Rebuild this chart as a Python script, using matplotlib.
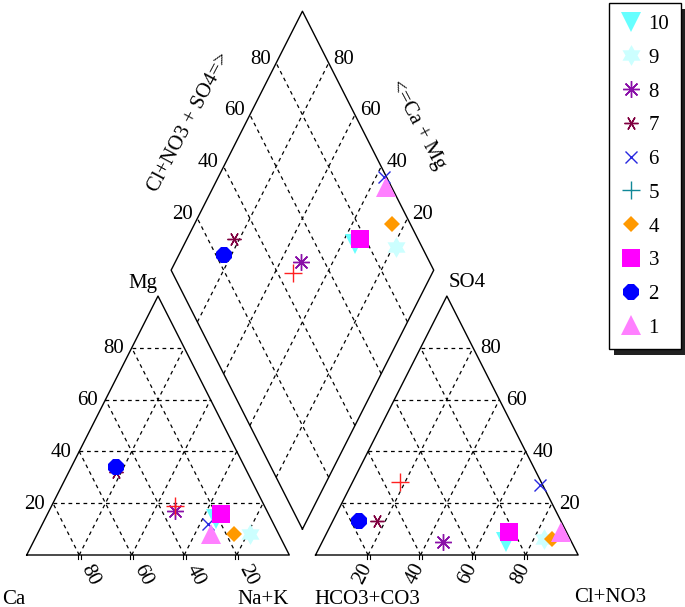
import numpy as np
import matplotlib.pyplot as plt
from matplotlib.lines import Line2D
from matplotlib.patches import Rectangle

plt.rcParams['font.family'] = ['Liberation Serif', 'DejaVu Serif']

samples = ['1', '2', '3', '4', '5', '6', '7', '8', '9', '10']
# cations (% meq/l)
ca = [26, 49, 18, 17, 34, 25, 50, 35, 11, 21]
mg = [8, 34, 16, 8, 19, 12, 32, 17, 8, 14]
na_k = [66, 17, 66, 75, 47, 63, 18, 48, 81, 65]
# anions (% meq/l)
hco3 = [2, 77, 22, 7, 54, 1, 70, 49, 10, 25]
so4 = [9, 13, 9, 6, 28, 27, 13, 5, 6, 5]
cl = [89, 10, 69, 87, 18, 72, 17, 46, 84, 70]
grid_vals = [20, 40, 60, 80]

# hexagram marker
ang = np.deg2rad(np.arange(12) * 30 + 90)
rad = np.where(np.arange(12) % 2 == 0, 1.0, 1 / np.sqrt(3))
hexagram = list(zip(rad * np.cos(ang), rad * np.sin(ang)))

colors = ['#FF80FF', '#0000FF', '#FF00FF', '#FF9900', '#FF2020',
          '#2828E0', '#800040', '#8A10A8', '#CCFFFF', '#66FFFF']
leg_colors = colors[:4] + ['#108898'] + colors[5:]
markers = ['^', '8', 's', 'D', '+', 'x', (6, 2, 90), (8, 2, 0), hexagram, 'v']
msizes = [14, 12.5, 13, 8.5, 13, 9, 10, 12, 15, 14]

h = np.sqrt(3) / 2
gap = 0.1
bx, by = 1 + gap / 2, gap / 2 * np.sqrt(3)

fig = plt.figure(figsize=(6.85, 6.07), dpi=100)
ax = fig.add_axes([0, 0, 1, 1])
ax.set_xlim(-26.7 / 262.6, (685 - 26.7) / 262.6)
ax.set_ylim((555 - 607) / 299, 555 / 299)
ax.axis('off')
ax.patch.set_visible(False)

solid = dict(color='k', lw=1, zorder=2)
dash = dict(color='k', lw=0.9, ls=(0, (3, 3)), zorder=1)
txt = dict(fontsize=15, textcoords='offset pixels')

# outlines
for x0 in [0, 1 + gap]:
    ax.plot([x0, x0 + 1, x0 + 0.5, x0], [0, 0, h, 0], **solid)
L = np.array([bx - 0.5, by + h])
R = np.array([bx + 0.5, by + h])
B = np.array([bx, by])
T = L + R - B
ax.plot([B[0], R[0], T[0], L[0], B[0]], [B[1], R[1], T[1], L[1], B[1]], **solid)

# grids
for v in grid_vals:
    k = v / 100
    for x0 in [0, 1 + gap]:
        ax.plot([x0 + 0.5 * k, x0 + 1 - 0.5 * k], [h * k, h * k], **dash)
        ax.plot([x0 + k, x0 + k + 0.5 * (1 - k)], [0, h * (1 - k)], **dash)
        ax.plot([x0 + 1 - k, x0 + 0.5 * (1 - k)], [0, h * (1 - k)], **dash)
        for dx in (-0.006, 0.006):
            ax.plot([x0 + k + dx] * 2, [0, -0.014], color='k', lw=0.8)
    p0 = B + k * (R - B)
    ax.plot([p0[0], p0[0] + L[0] - B[0]], [p0[1], p0[1] + L[1] - B[1]], **dash)
    p0 = B + k * (L - B)
    ax.plot([p0[0], p0[0] + R[0] - B[0]], [p0[1], p0[1] + R[1] - B[1]], **dash)

    # tick labels
    ax.annotate(str(v), (0.5 * k, h * k), xytext=(-8, -1), ha='right', va='center', **txt)
    ax.annotate(str(100 - v), (k, 0), xytext=(11, -20), ha='center', va='center',
                rotation=-63, **txt)
    ax.annotate(str(v), (1 + gap + k, 0), xytext=(-5, -19), ha='center', va='center',
                rotation=63, **txt)
    ax.annotate(str(v), (2 + gap - 0.5 * k, h * k), xytext=(7, -1), ha='left', va='center', **txt)
    pl = L + k * (R - B)
    ax.annotate(str(v), pl, xytext=(-5, 4), ha='right', va='center', **txt)
    pr = R + k * (L - B)
    ax.annotate(str(v), pr, xytext=(5, 4), ha='left', va='center', **txt)

# corner / axis titles
ax.annotate('Ca', (0, 0), xytext=(-13, -44), ha='center', va='center', **txt)
ax.annotate('Na+K', (1, 0), xytext=(-26, -44), ha='center', va='center', **txt)
ax.annotate('Mg', (0.5, h), xytext=(-15, 13), ha='center', va='center', **txt)
ax.annotate('HCO3+CO3', (1 + gap, 0), xytext=(52, -44), ha='center', va='center', **txt)
ax.annotate('Cl+NO3', (2 + gap, 0), xytext=(32, -43), ha='center', va='center', **txt)
ax.annotate('SO4', (1.5 + gap, h), xytext=(20, 14), ha='center', va='center', **txt)
ax.annotate('Cl+NO3 + SO4=>', (L + T) / 2, xytext=(-47, 18), ha='center', va='center',
            rotation=62, **txt)
ax.annotate('<=Ca + Mg', (R + T) / 2, xytext=(49, 16), ha='center', va='center',
            rotation=-62, **txt)

# data points
for i in reversed(range(len(samples))):
    tc = ca[i] + mg[i] + na_k[i]
    ta = hco3[i] + so4[i] + cl[i]
    xc = na_k[i] / tc + 0.5 * mg[i] / tc
    yc = h * mg[i] / tc
    xa = 1 + gap + cl[i] / ta + 0.5 * so4[i] / ta
    ya = h * so4[i] / ta
    a = (cl[i] + so4[i]) / ta
    c = (ca[i] + mg[i]) / tc
    xd = bx + 0.5 * (a - c)
    yd = by + h * (a + c)
    filled = markers[i] not in ('+', 'x') and not isinstance(markers[i], tuple)
    ax.plot([xc, xa, xd], [yc, ya, yd], ls='none', marker=markers[i], ms=msizes[i],
            color=colors[i], mec=colors[i], mew=0 if filled else 1, zorder=3)

handles = []
for i in reversed(range(len(samples))):
    filled = markers[i] not in ('+', 'x') and not isinstance(markers[i], tuple)
    handles.append(Line2D([], [], ls='none', marker=markers[i], ms=msizes[i],
                          color=leg_colors[i], mew=0 if filled else 1, label=samples[i]))
leg = fig.legend(handles=handles, loc='upper left', bbox_to_anchor=(609 / 685, 1 - 3 / 607),
                 bbox_transform=fig.transFigure, borderaxespad=0, fontsize=15, frameon=True,
                 fancybox=False, edgecolor='k', framealpha=1, borderpad=0.55,
                 handlelength=1.0, handletextpad=0.35, labelspacing=0.68)
leg.get_frame().set_linewidth(1)
leg.set_zorder(5)

fig.canvas.draw()
bb = leg.get_frame().get_window_extent(fig.canvas.get_renderer())
fig.add_artist(Rectangle((bb.x0 + 5, bb.y0 - 6), bb.width, bb.height, transform=None,
                         fc='#202020', ec='none', zorder=4))

fig.savefig('out.png', dpi=100)
